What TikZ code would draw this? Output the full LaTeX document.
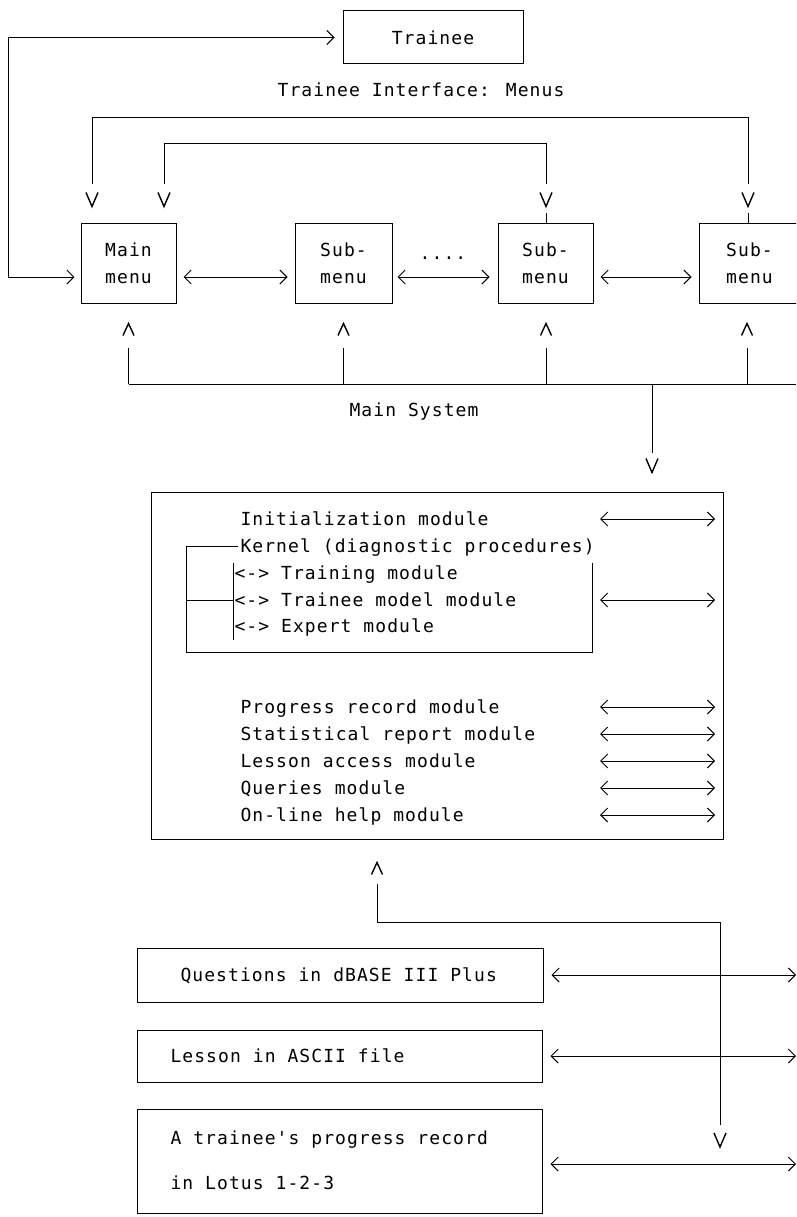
\documentclass[tikz,border=0pt]{standalone}
\usepackage{fontspec}
\newfontfamily\typefont{DejaVu Sans Mono}[LetterSpace=6.0]
\usetikzlibrary{arrows.meta}
\begin{document}
\begin{tikzpicture}[x=1pt,y=-1pt,line width=1pt,
  every node/.style={font=\typefont\fontsize{18}{27}\selectfont,inner sep=0pt},
  box/.style={draw,line width=1pt},
  txt/.style={anchor=base west},
  menubox/.style={box,minimum height=80pt,align=center},
  hh/.tip={Straight Barb[length=7pt,width=14pt]},
  dbl/.style={{hh}-{hh}},
  vee/.pic={\draw[line width=1.4pt] (-6,-14) -- (0,0) -- (6,-14);},
  wedge/.pic={\draw[line width=1.4pt] (-5.5,12) -- (0,0) -- (5.5,12);},
]
\useasboundingbox (0,0) rectangle (796,1217);
\clip (0,0) rectangle (796,1217);

% top
\node[box,minimum width=180pt,minimum height=53pt] (tr) at (433,37.5) {Trainee};
\node (tif) at (421,90) {Trainee Interface: Menus};

% menus
\node[menubox,minimum width=95pt] (m1) at (128.5,263) {Main\\menu};
\node[menubox,minimum width=97pt] (m2) at (343.5,263) {Sub-\\menu};
\node[menubox,minimum width=95pt] (m3) at (545.5,263) {Sub-\\menu};
\node[menubox,minimum width=101pt] (m4) at (749.5,263) {Sub-\\menu};
\node[anchor=base] (dots) at (443,259) {....};

% trainee link
\coordinate (tl) at (8,37.5);
\draw[dbl,shorten <=6pt,shorten >=8pt] ([yshift=-14pt]m1.west) -| (tl) -- (tr.west);

% brackets from interface
\draw[shorten <=38pt,shorten >=38pt] ([xshift=-36.5pt]m1.north) -- ++(0,-105) -| ([xshift=-1.5pt]m4.north);
\draw[shorten <=38pt,shorten >=38pt] ([xshift=35.5pt]m1.north) -- ++(0,-79) -| ([xshift=0.5pt]m3.north);
\pic at ([xshift=-36.5pt,yshift=16pt]m1.north) {vee};
\pic at ([xshift=35.5pt,yshift=16pt]m1.north) {vee};
\pic at ([xshift=0.5pt,yshift=16pt]m3.north) {vee};
\pic at ([xshift=-1.5pt,yshift=16pt]m4.north) {vee};
\draw ([xshift=0.5pt]m3.north) -- ++(0,-10);
\draw ([xshift=-1.5pt]m4.north) -- ++(0,-10);

% arrows between menus
\draw[dbl,shorten <=7pt,shorten >=7pt] ([yshift=-14pt]m1.east) -- ([yshift=-14pt]m2.west);
\draw[dbl,shorten <=5pt,shorten >=8pt] ([yshift=-14pt]m2.east) -- ([yshift=-14pt]m3.west);
\draw[dbl,shorten <=7pt,shorten >=7pt] ([yshift=-14pt]m3.east) -- ([yshift=-14pt]m4.west);

% main system bus
\node (msys) at (414,412) {Main System};
\coordinate (bl) at (128.5,384);
\coordinate (br) at (796,384);
\draw (bl) -- (br);
\draw[shorten >=44pt] (m1.south |- bl) -- (m1.south);
\draw[shorten >=44pt] (m2.south |- bl) -- (m2.south);
\draw[shorten >=44pt] ([xshift=0.5pt]m3.south |- bl) -- ([xshift=0.5pt]m3.south);
\draw[shorten >=44pt] ([xshift=-2.5pt]m4.south |- bl) -- ([xshift=-2.5pt]m4.south);
\pic at ([yshift=-20pt]m1.south) {wedge};
\pic at ([yshift=-20pt]m2.south) {wedge};
\pic at ([xshift=0.5pt,yshift=-20pt]m3.south) {wedge};
\pic at ([xshift=-2.5pt,yshift=-20pt]m4.south) {wedge};

% system box
\node[box,minimum width=572pt,minimum height=347pt] (sys) at (437,665.5) {};
\coordinate (bd) at (652,384);
\draw[shorten >=39pt] (bd) -- (bd |- sys.north);
\pic at ([yshift=19pt]bd |- sys.north) {vee};

\node[txt] (t1) at (240,525) {Initialization module};
\node[txt] (t2) at (240,552) {Kernel (diagnostic procedures)};
\node[txt] (t3) at (234,579) {<-> Training module};
\node[txt] (t4) at (234,606) {<-> Trainee model module};
\node[txt] (t5) at (234,632) {<-> Expert module};
\node[txt] (t6) at (240,713) {Progress record module};
\node[txt] (t7) at (240,740) {Statistical report module};
\node[txt] (t8) at (240,767) {Lesson access module};
\node[txt] (t9) at (240,794) {Queries module};
\node[txt] (t10) at (240,821) {On-line help module};

% kernel bracket
\draw (238,546) -- (186,546) -- (186,652) -- (592,652) -- (592,563);
\draw (233,563) -- (233,640);
\draw (186,600) -- (233,600);

% right arrows inside system box
\foreach \yy [count=\i] in {519,600,707,734,761,788,815} {
  \coordinate (ra\i) at (600,\yy);
  \coordinate (rb\i) at (715,\yy);
  \draw[dbl] (ra\i) -- (rb\i);
}

% file boxes
\node[box,minimum width=406pt,minimum height=54pt] (qb) at (340,975) {};
\node[box,minimum width=405pt,minimum height=52pt] (lb) at (339.5,1056) {};
\node[box,minimum width=405pt,minimum height=104pt] (pb) at (339.5,1161) {};
\node[txt] (qt) at (180,981) {Questions in dBASE III Plus};
\node[txt] (lt) at (170,1062) {Lesson in ASCII file};
\node[txt] (pt1) at (170,1144) {A trainee's progress record};
\node[txt] (pt2) at (170,1189) {in Lotus 1-2-3};

\coordinate (qR) at (796,975);
\coordinate (lR) at (796,1056);
\coordinate (pR) at (796,1164);
\draw[dbl,shorten <=8pt] (qb.east) -- (qR);
\draw[dbl,shorten <=8pt] (lb.east) -- (lR);
\draw[dbl,shorten <=8pt] ([yshift=-3pt]pb.east) -- (pR);

% link from files to system
\coordinate (pV) at (720,1164);
\draw[shorten <=44pt,shorten >=39pt] ([xshift=-60pt]sys.south) -- ++(0,83) -| (pV);
\pic at ([xshift=-60pt,yshift=-23pt]sys.south) {wedge};
\pic at ([yshift=17pt]pV) {vee};
\end{tikzpicture}
\end{document}
